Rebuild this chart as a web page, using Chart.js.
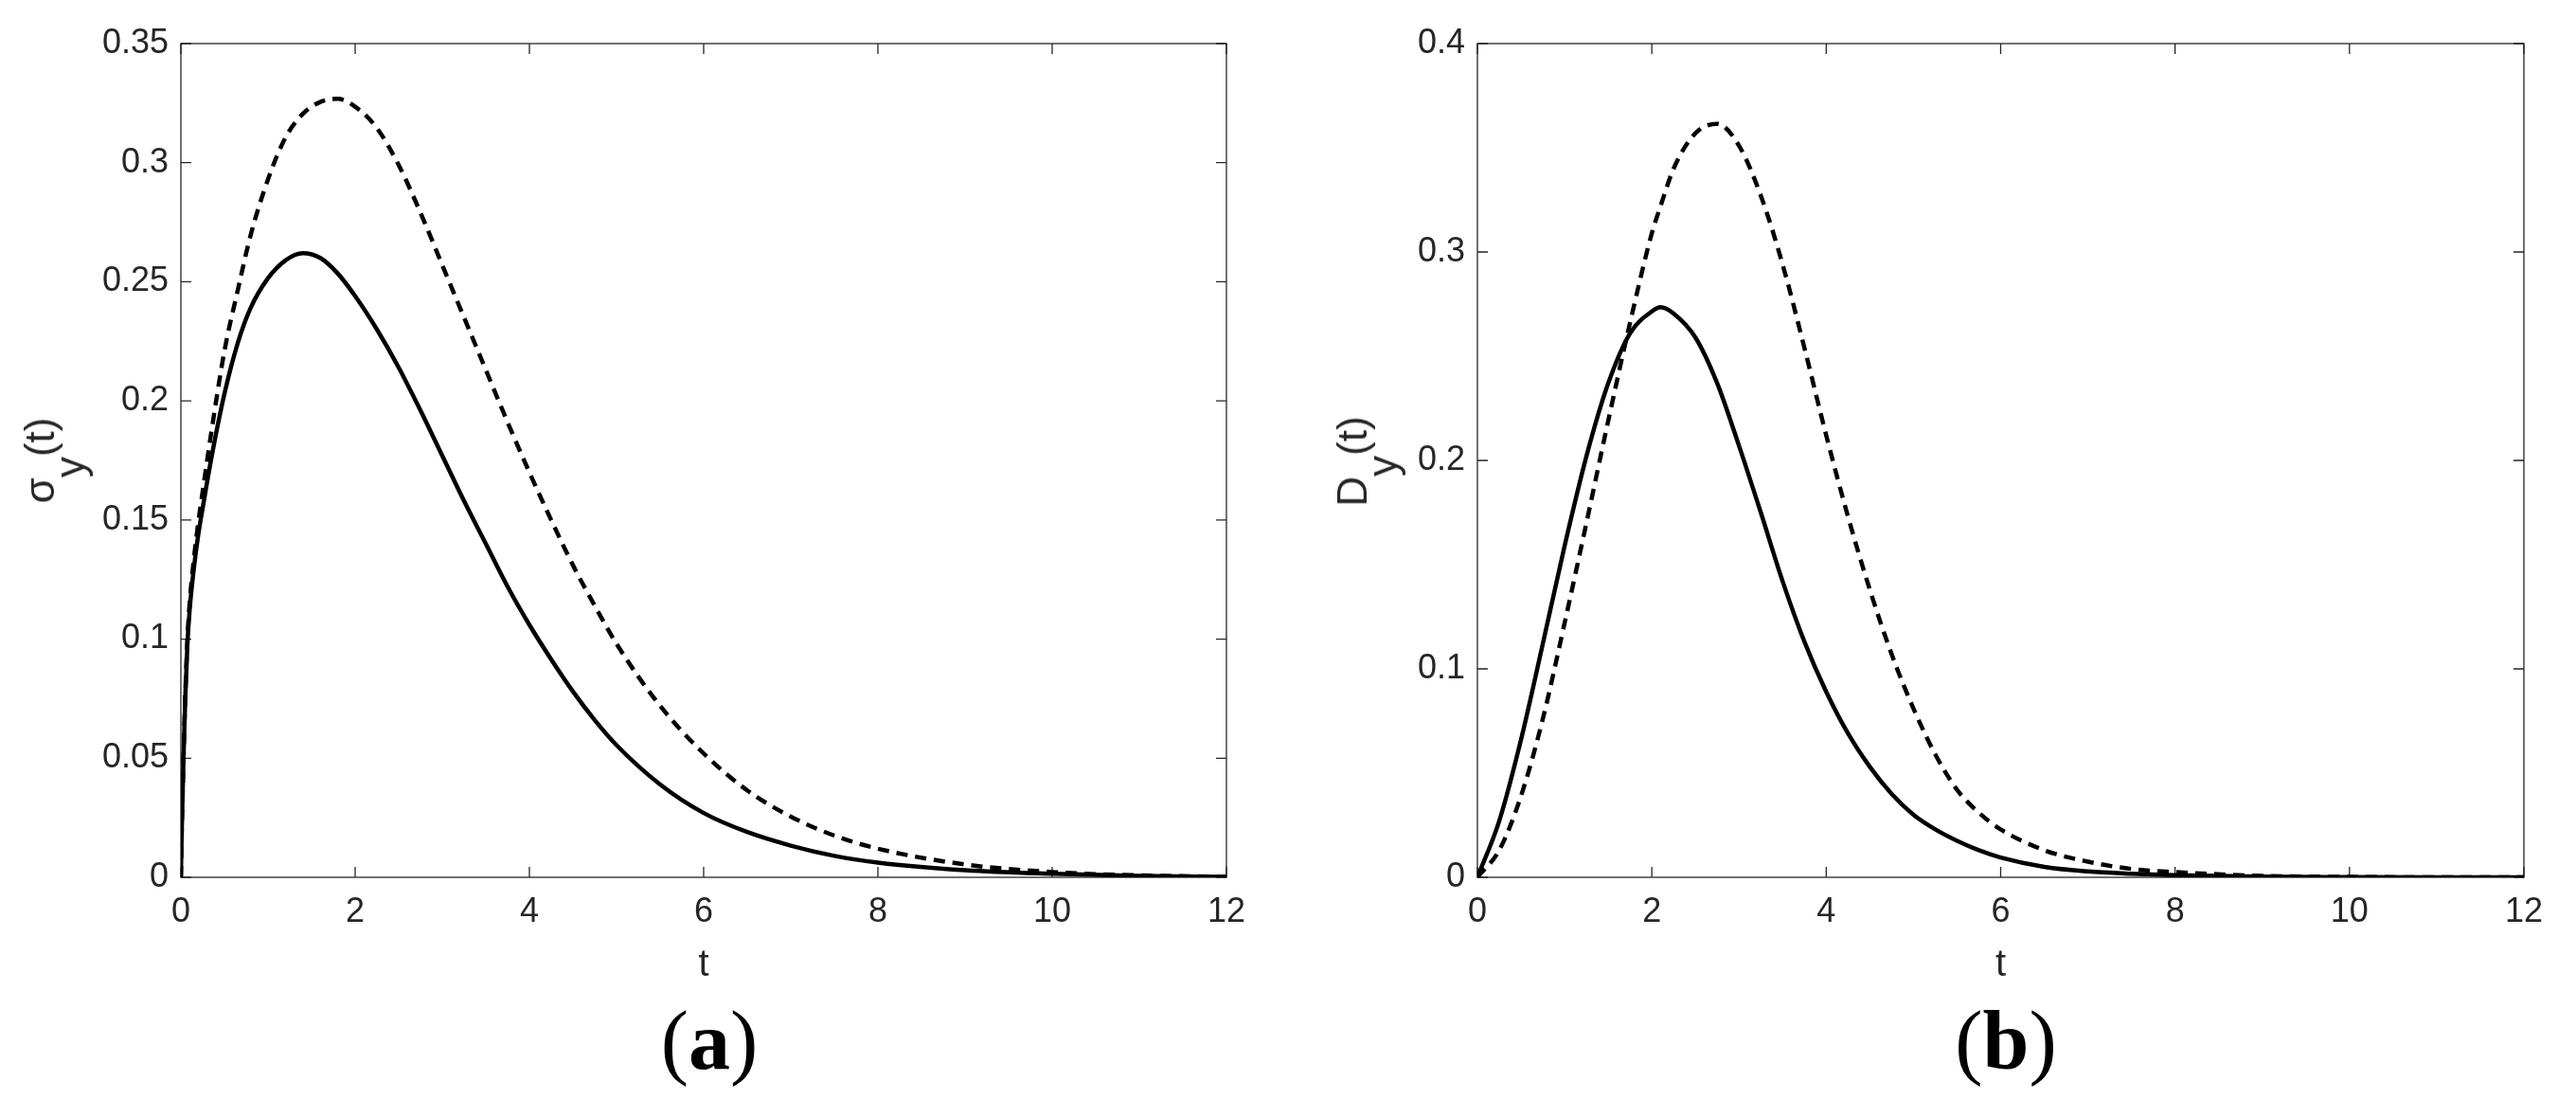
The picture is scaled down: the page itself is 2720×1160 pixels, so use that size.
<!DOCTYPE html>
<html>
<head>
<meta charset="utf-8">
<script src="https://cdn.jsdelivr.net/npm/chart.js@4.4.1/dist/chart.umd.min.js"></script>
<style>
  body { margin: 0; width: 2720px; height: 1160px; background: #fff; position: relative; overflow: hidden; }
  .box { position: absolute; top: 0; }
  .ylab {
    position: absolute; white-space: nowrap; color: #262626;
    font-family: 'Liberation Sans', Arial, sans-serif; font-size: 44px; line-height: 44px;
    transform: translate(-50%, -50%) rotate(-90deg);
  }
  .ylab span { position: relative; top: 32px; }
  .cap {
    position: absolute; top: 1099px; transform: translate(-50%, -50%);
    font-family: 'Liberation Serif', 'Times New Roman', serif; font-size: 88px; line-height: 88px; color: #000;
  }
  .cap b { font-weight: bold; }
</style>
</head>
<body>
<div class="box" style="left:0px"><canvas id="chartA" width="1330" height="1050"></canvas></div>
<div class="box" style="left:1360px"><canvas id="chartB" width="1340" height="1050"></canvas></div>
<div class="ylab" style="left:42px; top:486px">σ<span>y</span>(t)</div>
<div class="ylab" style="left:1428px; top:487px">D<span>y</span>(t)</div>
<div class="cap" style="left:749px">(<b>a</b>)</div>
<div class="cap" style="left:2118px">(<b>b</b>)</div>
<script>
// panel (a): sigma_y(t)
const tA = [0, 0.01, 0.03, 0.05, 0.075, 0.1, 0.15, 0.2, 0.25, 0.35, 0.5, 0.65, 0.8, 1.0, 1.2, 1.4, 1.6, 1.8, 2.0,
  2.25, 2.5, 2.75, 3.0, 3.25, 3.5, 3.75, 4.0, 4.25, 4.5, 4.75, 5.0, 5.5, 6.0, 6.5, 7.0, 7.5, 8.0, 9.0, 10.0, 11.0, 12.0];
const sigmaSolid = [0, 0.02, 0.05, 0.075, 0.098, 0.112, 0.13, 0.144, 0.155, 0.176, 0.203, 0.224, 0.239, 0.2515, 0.259,
  0.262, 0.26, 0.2535, 0.244, 0.23, 0.214, 0.196, 0.177, 0.158, 0.14, 0.122, 0.106, 0.0915, 0.078, 0.066, 0.0555,
  0.039, 0.027, 0.019, 0.0133, 0.009, 0.0062, 0.003, 0.0015, 0.0006, 0.0002];
const sigmaDashed = [0, 0.02, 0.05, 0.076, 0.1, 0.115, 0.134, 0.149, 0.162, 0.187, 0.221, 0.246, 0.2695, 0.293, 0.3105,
  0.3205, 0.3255, 0.3268, 0.3235, 0.3145, 0.299, 0.279, 0.257, 0.235, 0.213, 0.191, 0.17, 0.15, 0.131, 0.114, 0.098,
  0.072, 0.052, 0.0365, 0.0255, 0.0175, 0.012, 0.0054, 0.0022, 0.0008, 0.0002];

// panel (b): D_y(t)
const tB = [0, 0.25, 0.5, 0.75, 1.0, 1.25, 1.5, 1.75, 2.0, 2.1, 2.25, 2.5, 2.75, 3.0, 3.25, 3.5, 3.75, 4.0, 4.25, 4.5,
  4.75, 5.0, 5.25, 5.5, 5.75, 6.0, 6.5, 7.0, 7.5, 8.0, 9.0, 10.0, 11.0, 12.0];
const dSolid = [0, 0.027, 0.066, 0.112, 0.159, 0.202, 0.237, 0.261, 0.2715, 0.2735, 0.2705, 0.259, 0.237, 0.207, 0.175,
  0.142, 0.113, 0.089, 0.069, 0.053, 0.04, 0.03, 0.023, 0.0175, 0.013, 0.0095, 0.005, 0.0028, 0.0017, 0.001, 0.0003,
  0.0001, 0, 0];
const dDashed = [0, 0.013, 0.039, 0.076, 0.122, 0.17, 0.219, 0.266, 0.309, 0.322, 0.34, 0.357, 0.3615, 0.351, 0.327,
  0.294, 0.254, 0.212, 0.173, 0.138, 0.107, 0.081, 0.059, 0.042, 0.031, 0.023, 0.013, 0.0075, 0.004, 0.0025, 0.0007,
  0.0002, 0, 0];

const xTicks = [0, 2, 4, 6, 8, 10, 12];
const yTicksA = [0, 0.05, 0.1, 0.15, 0.2, 0.25, 0.3, 0.35];
const yTicksB = [0, 0.1, 0.2, 0.3, 0.4];

const axisColor = '#262626';
const fontFamily = "'Liberation Sans', Arial, sans-serif";

// matlab style box with inward ticks on all four sides
const matlabBox = {
  id: 'matlabBox',
  beforeDatasetsDraw(chart) {
    const { ctx, chartArea: a, scales } = chart;
    const tl = 11;
    ctx.save();
    ctx.strokeStyle = axisColor;
    ctx.lineWidth = 1.3;
    ctx.strokeRect(a.left, a.top, a.right - a.left, a.bottom - a.top);
    ctx.beginPath();
    xTicks.forEach(v => {
      const px = scales.x.getPixelForValue(v);
      ctx.moveTo(px, a.bottom); ctx.lineTo(px, a.bottom - tl);
      ctx.moveTo(px, a.top); ctx.lineTo(px, a.top + tl);
    });
    chart.options.yTickList.forEach(v => {
      const py = scales.y.getPixelForValue(v);
      ctx.moveTo(a.left, py); ctx.lineTo(a.left + tl, py);
      ctx.moveTo(a.right, py); ctx.lineTo(a.right - tl, py);
    });
    ctx.stroke();
    ctx.restore();
  }
};

function series(ts, vals, dashed) {
  return {
    data: ts.map((t, i) => ({ x: t, y: vals[i] })),
    borderColor: '#000',
    borderWidth: 4.5,
    borderDash: dashed ? [12, 8] : [],
    pointRadius: 0,
    fill: false,
    cubicInterpolationMode: 'monotone'
  };
}

function makeChart(id, ts, solid, dashed, yMax, yStep, yTickList, yWidth, padRight) {
  return new Chart(document.getElementById(id), {
    type: 'line',
    data: { datasets: [series(ts, solid, false), series(ts, dashed, true)] },
    options: {
      responsive: false,
      animation: false,
      yTickList: yTickList,
      layout: { padding: { top: 46, right: padRight, left: 0, bottom: 0 } },
      plugins: { legend: { display: false }, tooltip: { enabled: false } },
      scales: {
        x: {
          type: 'linear', min: 0, max: 12,
          grid: { display: false, drawTicks: false },
          border: { display: false },
          ticks: { stepSize: 2, color: axisColor, padding: 15, font: { family: fontFamily, size: 36 } },
          title: { display: true, text: 't', color: axisColor, padding: { top: 0, bottom: 7 },
                   font: { family: fontFamily, size: 40 } },
          afterFit: s => { s.height = 124; }
        },
        y: {
          min: 0, max: yMax,
          grid: { display: false, drawTicks: false },
          border: { display: false },
          ticks: {
            stepSize: yStep, color: axisColor, padding: 13, font: { family: fontFamily, size: 36 },
            callback: v => String(+v.toFixed(2))
          },
          afterFit: s => { s.width = yWidth; }
        }
      }
    },
    plugins: [matlabBox]
  });
}

makeChart('chartA', tA, sigmaSolid, sigmaDashed, 0.35, 0.05, yTicksA, 191, 23);
makeChart('chartB', tB, dSolid, dDashed, 0.4, 0.1, yTicksB, 200, 24);
</script>
</body>
</html>
